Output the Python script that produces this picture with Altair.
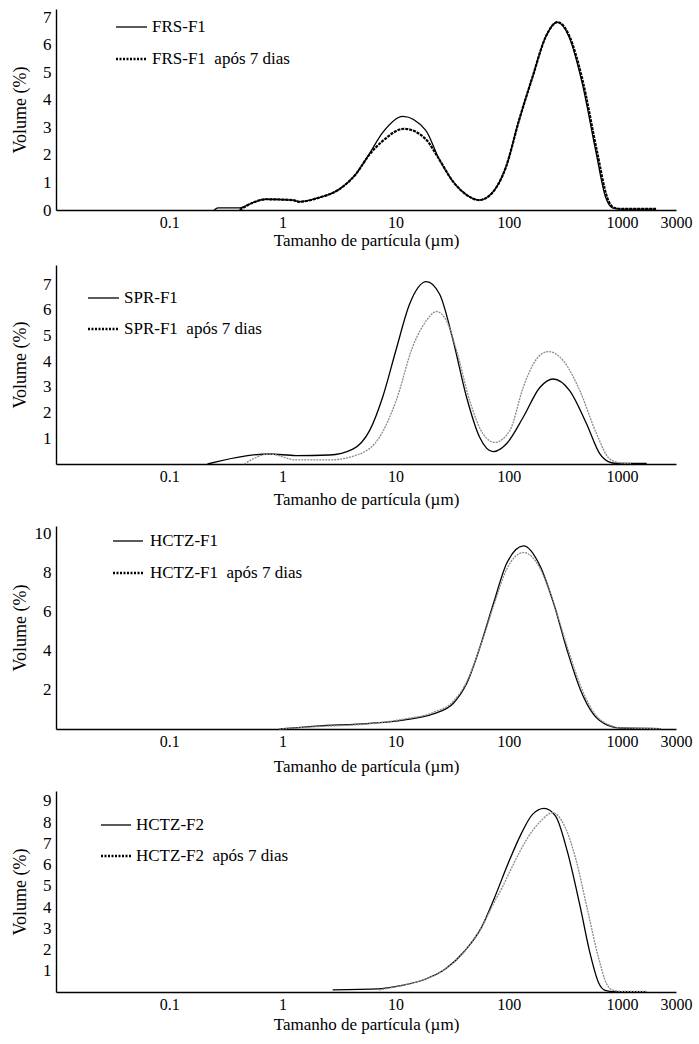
import altair as alt
import pandas as pd

FONT = "Liberation Serif"

# ---------------- Panel 1: FRS-F1 ----------------
frs_size = [0.25, 0.27, 0.42, 0.55, 0.71, 1.23, 1.41, 2.11, 3.17, 4.45, 5.84, 7.65, 11.6, 18.4, 24.2,
            31.8, 41.7, 54.6, 71.6, 94, 123, 162, 212, 269, 340, 446, 586, 718, 822, 1000, 1990]
frs_vol = [0, 0.08, 0.08, 0.27, 0.39, 0.36, 0.30, 0.45, 0.75, 1.30, 2.03, 2.80, 3.40, 2.90, 1.85,
           1.06, 0.57, 0.36, 0.63, 1.54, 3.25, 4.83, 6.29, 6.82, 6.29, 4.59, 2.15, 0.45, 0.08, 0.03, 0.03]
frs7_size = [0.42, 0.55, 0.71, 1.23, 1.41, 2.11, 3.17, 4.45, 5.84, 7.65, 11.9, 18.4, 24.2, 31.8, 41.7,
             54.6, 71.6, 94, 123, 162, 212, 269, 340, 446, 600, 740, 850, 1000, 2000]
frs7_vol = [0, 0.27, 0.39, 0.36, 0.30, 0.45, 0.75, 1.30, 2.0, 2.5, 2.95, 2.58, 1.85, 1.06, 0.57,
            0.36, 0.63, 1.54, 3.25, 4.83, 6.29, 6.82, 6.35, 4.75, 2.15, 0.45, 0.08, 0.04, 0.04]

# ---------------- Panel 2: SPR-F1 ----------------
spr_size = [0.218, 0.478, 0.767, 1.32, 2.6, 4.19, 5.89, 7.72, 10.1, 13.3, 18.7, 24.5, 32.1, 42.2, 55.3,
            72.6, 95, 134, 188, 247, 346, 487, 638, 756, 900, 1650]
spr_vol = [0, 0.32, 0.39, 0.33, 0.35, 0.58, 1.3, 2.63, 4.45, 6.23, 7.1, 6.61, 4.84, 2.63, 1.04,
           0.48, 0.78, 1.82, 2.98, 3.31, 2.85, 1.56, 0.39, 0.09, 0.02, 0.02]
spr7_size = [0.46, 0.767, 1.32, 2.6, 4.8, 7.2, 10.1, 14.2, 18.7, 22.9, 28.1, 34.4, 45.2, 59.3, 75.2,
             102, 134, 176, 223, 303, 425, 597, 783, 1028, 1200]
spr7_vol = [0, 0.39, 0.16, 0.16, 0.39, 1.04, 2.46, 4.58, 5.58, 5.94, 5.58, 4.45, 2.46, 1.17, 0.84,
            1.3, 2.98, 4.09, 4.38, 4.02, 2.85, 1.17, 0.19, 0.03, 0.02]

# ---------------- Panel 3: HCTZ-F1 ----------------
h1_size = [0.94, 1.99, 5.9, 11.7, 21.5, 32.4, 42.5, 55.8, 73.3, 96.1, 135, 190, 249, 327, 430, 565, 742, 972, 2200]
h1_vol = [0, 0.15, 0.29, 0.46, 0.77, 1.32, 2.34, 4.22, 6.44, 8.5, 9.38, 8.32, 6.44, 4.05, 2.0, 0.72, 0.2, 0.05, 0.02]
h17_size = [0.94, 1.99, 5.9, 11.7, 21.5, 32.4, 42.5, 55.8, 73.3, 96.1, 135, 190, 249, 335, 445, 580, 760, 990, 2200]
h17_vol = [0, 0.12, 0.27, 0.5, 0.85, 1.42, 2.42, 4.2, 6.3, 8.2, 9.04, 8.2, 6.44, 4.05, 2.0, 0.75, 0.22, 0.06, 0.02]

# ---------------- Panel 4: HCTZ-F2 ----------------
h2_size = [2.78, 7.13, 11.4, 18.2, 27.3, 40.8, 57.2, 74.8, 98, 128, 162, 205, 259, 328, 429, 525, 621, 710, 850, 1640]
h2_vol = [0.1, 0.15, 0.31, 0.6, 1.07, 1.93, 3.03, 4.44, 6.01, 7.42, 8.36, 8.64, 8.28, 6.64, 3.97, 1.77, 0.44, 0.08, 0.02, 0.02]
h27_size = [7.13, 11.4, 18.2, 27.3, 40.8, 57.2, 74.8, 88, 105, 125, 147, 192, 243, 306, 388, 491, 621, 735, 840, 1000, 1640]
h27_vol = [0.1, 0.31, 0.6, 1.07, 1.93, 3.03, 4.25, 4.95, 5.8, 6.6, 7.26, 8.05, 8.44, 7.89, 6.32, 3.97, 1.61, 0.36, 0.08, 0.03, 0.03]

XTICKS_FULL = [0.1, 1, 10, 100, 1000, 3000]
XTICKS_SHORT = [0.1, 1, 10, 100, 1000]

W = 620


def panel(sx, sy, ax, ay, name, ymax, yticks, xticks, height, aged_color, aged_width, aged_dash,
          leg, title_pad):
    df_s = pd.DataFrame({"size": sx, "vol": sy})
    df_a = pd.DataFrame({"size": ax, "vol": ay})
    xaxis = alt.Axis(values=xticks, format="~g", title="Tamanho de partícula (µm)",
                     titlePadding=title_pad, labelFlush=False, labelOverlap=False,
                     labelFont=FONT, titleFont=FONT, labelFontSize=16, titleFontSize=17,
                     titleFontWeight="normal", labelPadding=4, ticks=False, grid=False,
                     domainColor="black", domainWidth=1.4, labelColor="black",
                     titleColor="black")
    yaxis = alt.Axis(values=yticks, format="d", title="Volume (%)",
                     titleX=-36, titleY=height / 2, titleBaseline="middle",
                     titleAlign="center", titleAngle=270, labelFlush=False,
                     labelOverlap=False, labelFont=FONT, titleFont=FONT,
                     labelFontSize=17, titleFontSize=18, titleFontWeight="normal",
                     labelPadding=5, ticks=False, grid=False, domainColor="black",
                     domainWidth=1.4, labelColor="black", titleColor="black")
    xs = alt.Scale(type="log", domain=[0.01, 3000])
    ys = alt.Scale(domain=[0, ymax], nice=False)
    solid = alt.Chart(df_s).mark_line(color="black", strokeWidth=1.3, interpolate="monotone").encode(
        x=alt.X("size:Q", scale=xs, axis=xaxis), y=alt.Y("vol:Q", scale=ys, axis=yaxis))
    aged = alt.Chart(df_a).mark_line(color=aged_color, strokeWidth=aged_width, strokeDash=aged_dash,
                                     interpolate="monotone").encode(
        x=alt.X("size:Q", scale=xs, axis=xaxis), y=alt.Y("vol:Q", scale=ys, axis=yaxis))
    lx0, lx1, tx, ly1, ly2 = leg
    one = pd.DataFrame({"k": [0]})
    r1 = alt.Chart(one).mark_rule(color="black", strokeWidth=1.3).encode(
        x=alt.value(lx0), x2=alt.value(lx1), y=alt.value(ly1))
    r2 = alt.Chart(one).mark_rule(color="black", strokeWidth=2.5, strokeDash=[2, 1.5]).encode(
        x=alt.value(lx0), x2=alt.value(lx1), y=alt.value(ly2))
    t1 = alt.Chart(one).mark_text(align="left", baseline="middle", font=FONT, fontSize=17,
                                  color="black").encode(x=alt.value(tx), y=alt.value(ly1),
                                                        text=alt.value(name))
    t2 = alt.Chart(one).mark_text(align="left", baseline="middle", font=FONT, fontSize=17,
                                  color="black").encode(x=alt.value(tx), y=alt.value(ly2),
                                                        text=alt.value(name + "\u00a0 após 7 dias"))
    return alt.layer(solid, aged, r1, r2, t1, t2).properties(width=W, height=height)


p1 = panel(frs_size, frs_vol, frs7_size, frs7_vol, "FRS-F1", 7.3, [0, 1, 2, 3, 4, 5, 6, 7],
           XTICKS_FULL, 201, "black", 2.2, [3, 1], (60, 91, 96, 18, 50), 2)
p2 = panel(spr_size, spr_vol, spr7_size, spr7_vol, "SPR-F1", 7.75, [1, 2, 3, 4, 5, 6, 7],
           XTICKS_SHORT, 199, "#8a8a8a", 1.3, [2, 1], (32, 63, 68, 33, 64), 7)
p3 = panel(h1_size, h1_vol, h17_size, h17_vol, "HCTZ-F1", 10.4, [2, 4, 6, 8, 10],
           XTICKS_FULL, 203, "#8a8a8a", 1.3, [2, 1], (57, 87, 94, 15, 47), 9)
p4 = panel(h2_size, h2_vol, h27_size, h27_vol, "HCTZ-F2", 9.46, [1, 2, 3, 4, 5, 6, 7, 8, 9],
           XTICKS_FULL, 201, "#8a8a8a", 1.3, [2, 1], (45, 75, 80, 34, 65), 4)

chart = alt.vconcat(p1, p2, p3, p4, spacing=17).properties(
    padding={"left": 11, "top": 8, "right": 5, "bottom": 5}
).configure(font=FONT).configure_view(stroke=None)

chart.save("out.html", embed_options={"renderer": "svg", "actions": False})
